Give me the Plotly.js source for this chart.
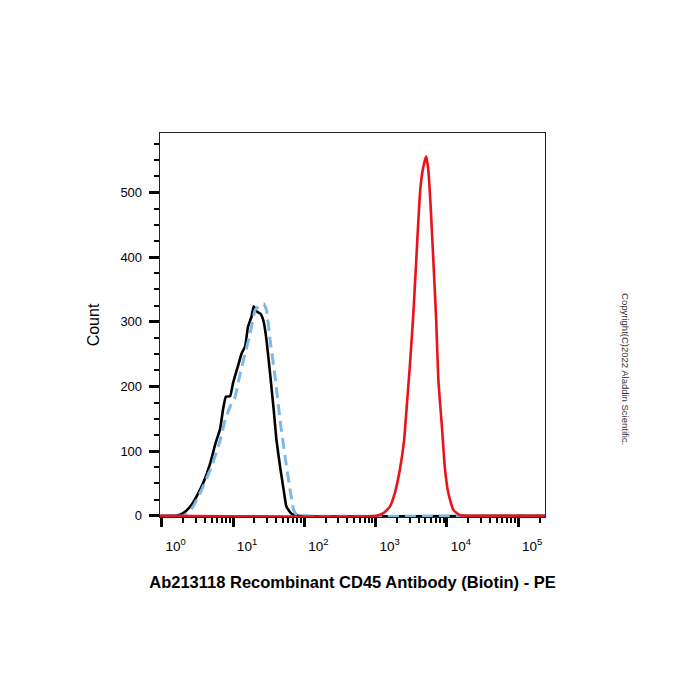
<!DOCTYPE html>
<html>
<head>
<meta charset="utf-8">
<script src="https://cdn.plot.ly/plotly-3.0.1.min.js"></script>
<style>html,body{margin:0;padding:0;background:#fff;}#chart{width:700px;height:700px;}</style>
</head>
<body>
<div id="chart"></div>
<script>
// Fluorescence intensity (PE) and event counts
const isoX = [0.95, 1.62, 2.0, 2.51, 3.09, 3.80, 4.79, 5.62, 6.61, 7.24, 7.94, 9.12, 10, 11.7, 13.2, 14.8, 16.2, 18.2, 19.5, 21.4, 24.5, 26.9, 29.5, 33.1, 37.2, 40.7, 45.7, 51.3, 56.2, 66.1, 83.2, 240000];
const isoY = [0, 0, 4, 14, 30, 50, 81, 110, 135, 164, 184, 185, 205, 231, 251, 262, 292, 308, 324, 316, 312, 300, 272, 220, 164, 117, 76, 40, 14, 3, 0, 0];

const blankX = [0.95, 2.14, 2.75, 3.63, 5.01, 6.61, 7.76, 9.12, 10.7, 12.6, 14.8, 17.4, 20.4, 24.0, 26.9, 29.5, 33.1, 38.9, 45.7, 53.7, 63.1, 70.8, 77.6, 89, 240000];
const blankY = [0, 0, 14, 40, 76, 117, 148, 169, 184, 220, 251, 282, 318, 326, 328, 318, 272, 215, 148, 92, 40, 9, 2, 0, 0];

const cd45X = [0.95, 1023, 1288, 1585, 1862, 2188, 2512, 2692, 3020, 3388, 3715, 3981, 4266, 4677, 5129, 5495, 5888, 6457, 7079, 7586, 8511, 9333, 10471, 12303, 15136, 19055, 240000];
const cd45Y = [0, 0, 4, 14, 35, 71, 117, 159, 231, 313, 395, 457, 509, 540, 556, 534, 483, 395, 303, 210, 138, 76, 35, 9, 1, 0, 0];

const xTickVals = [1, 10, 100, 1000, 10000, 100000];
const xTickText = ['10<sup>0</sup>', '10<sup>1</sup>', '10<sup>2</sup>', '10<sup>3</sup>', '10<sup>4</sup>', '10<sup>5</sup>'];
const yTickVals = [0, 100, 200, 300, 400, 500];

const xMinor = [];
for (let d = 0; d <= 5; d++) {
  for (let m = 2; m <= 9; m++) xMinor.push(m * Math.pow(10, d));
}

const FONT = 'Liberation Sans, Arial, sans-serif';

const traces = [
  {x: isoX, y: isoY, type: 'scatter', mode: 'lines', name: 'Unstained',
   line: {color: '#000000', width: 2.6, shape: 'spline', smoothing: 0.4}},
  {x: blankX, y: blankY, type: 'scatter', mode: 'lines', name: 'Isotype',
   line: {color: '#7db9e8', width: 3, dash: '11px,6px', shape: 'spline', smoothing: 0.4}},
  {x: cd45X, y: cd45Y, type: 'scatter', mode: 'lines', name: 'CD45',
   line: {color: '#e8131b', width: 2.6, shape: 'spline', smoothing: 0.4}}
];

const layout = {
  width: 700, height: 700,
  margin: {l: 160, r: 155, t: 133, b: 183},
  paper_bgcolor: '#ffffff', plot_bgcolor: '#ffffff',
  showlegend: false,
  font: {family: FONT, color: '#000'},
  xaxis: {
    type: 'log', range: [-0.024, 5.376],
    tickmode: 'array', tickvals: xTickVals, ticktext: xTickText,
    ticks: 'outside', ticklen: 9, tickwidth: 3, tickcolor: '#000',
    ticklabelshift: 14, ticklabelstandoff: 7,
    tickfont: {size: 13.5, family: FONT, color: '#000'},
    minor: {tickmode: 'array', tickvals: xMinor, ticks: 'outside', ticklen: 5, tickwidth: 2, tickcolor: '#000', showgrid: false},
    showgrid: false, zeroline: false,
    showline: true, mirror: true, linecolor: '#222', linewidth: 1.3,
    title: {text: '<b>Ab213118 Recombinant CD45 Antibody (Biotin) - PE</b>', font: {size: 16.5, family: FONT, color: '#000'}, standoff: 24}
  },
  yaxis: {
    range: [-2, 592],
    tickmode: 'array', tickvals: yTickVals,
    ticks: 'outside', ticklen: 10, tickwidth: 3, tickcolor: '#000',
    ticklabelstandoff: 4,
    tickfont: {size: 13, family: FONT, color: '#000'},
    minor: {dtick: 25, tick0: 0, ticks: 'outside', ticklen: 5, tickwidth: 2, tickcolor: '#000', showgrid: false},
    showgrid: false, zeroline: false,
    showline: true, mirror: true, linecolor: '#222', linewidth: 1.3,
    title: {text: 'Count', font: {size: 16, family: FONT, color: '#000'}, standoff: 16}
  },
  annotations: [{
    text: 'Copyright(C)2022 Aladdin Scientific.',
    xref: 'paper', yref: 'paper', x: 1.23, y: 0.385,
    showarrow: false, textangle: 90,
    font: {size: 9.5, family: FONT, color: '#333'}
  }]
};

Plotly.newPlot('chart', traces, layout, {displayModeBar: false, staticPlot: true});
</script>
</body>
</html>
